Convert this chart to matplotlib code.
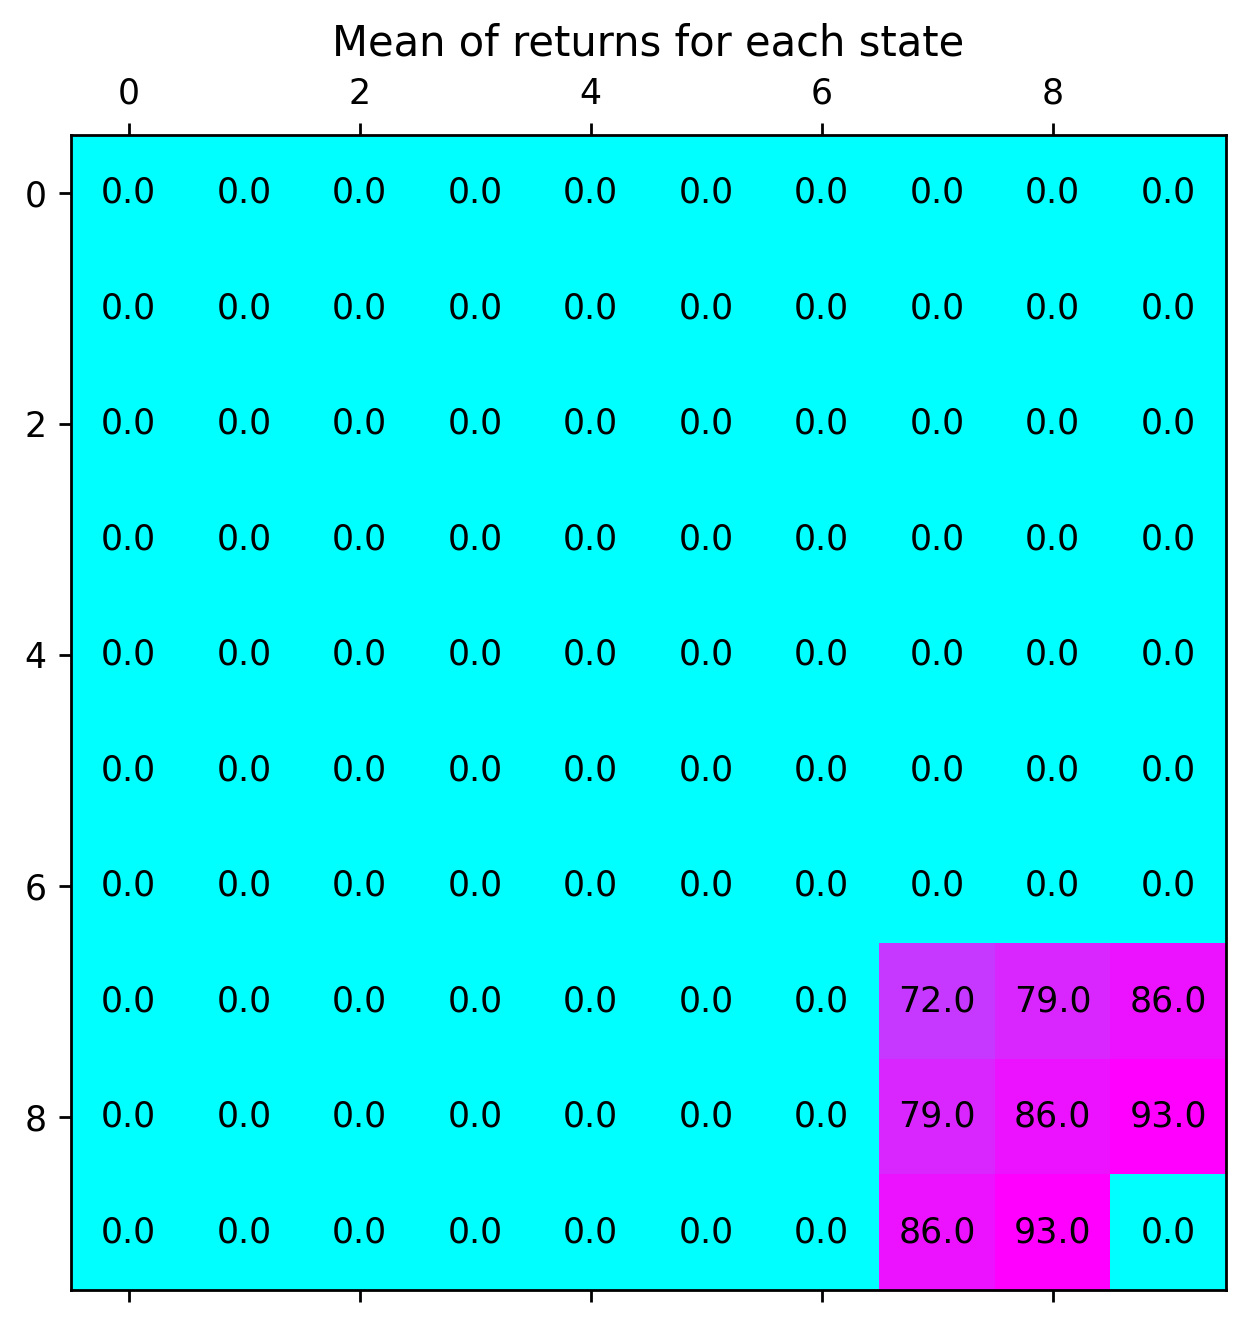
import numpy as np
import matplotlib
matplotlib.use("Agg")
import matplotlib.pyplot as plt

# mean returns per state on the 10x10 grid
n_rows = 10
n_cols = 10
corner_rows = [7, 8, 9]
corner_cols = [7, 8, 9]
corner_vals = [[72.0, 79.0, 86.0],
               [79.0, 86.0, 93.0],
               [86.0, 93.0, 0.0]]

V = np.zeros((n_rows, n_cols))
for i, r in enumerate(corner_rows):
    for j, c in enumerate(corner_cols):
        V[r, c] = corner_vals[i][j]

fig = plt.figure(figsize=(1251/250, 1327/250), dpi=250)
ax = fig.add_axes([71/1251, 37/1327, 1155/1251, 1155/1327])
ax.matshow(V, cmap='cool')

for r in range(n_rows):
    for c in range(n_cols):
        ax.text(c, r, "%.1f" % V[r, c], ha='center', va='center', fontsize=10)

ax.set_title('Mean of returns for each state')

fig.savefig('out.png', dpi=250)
